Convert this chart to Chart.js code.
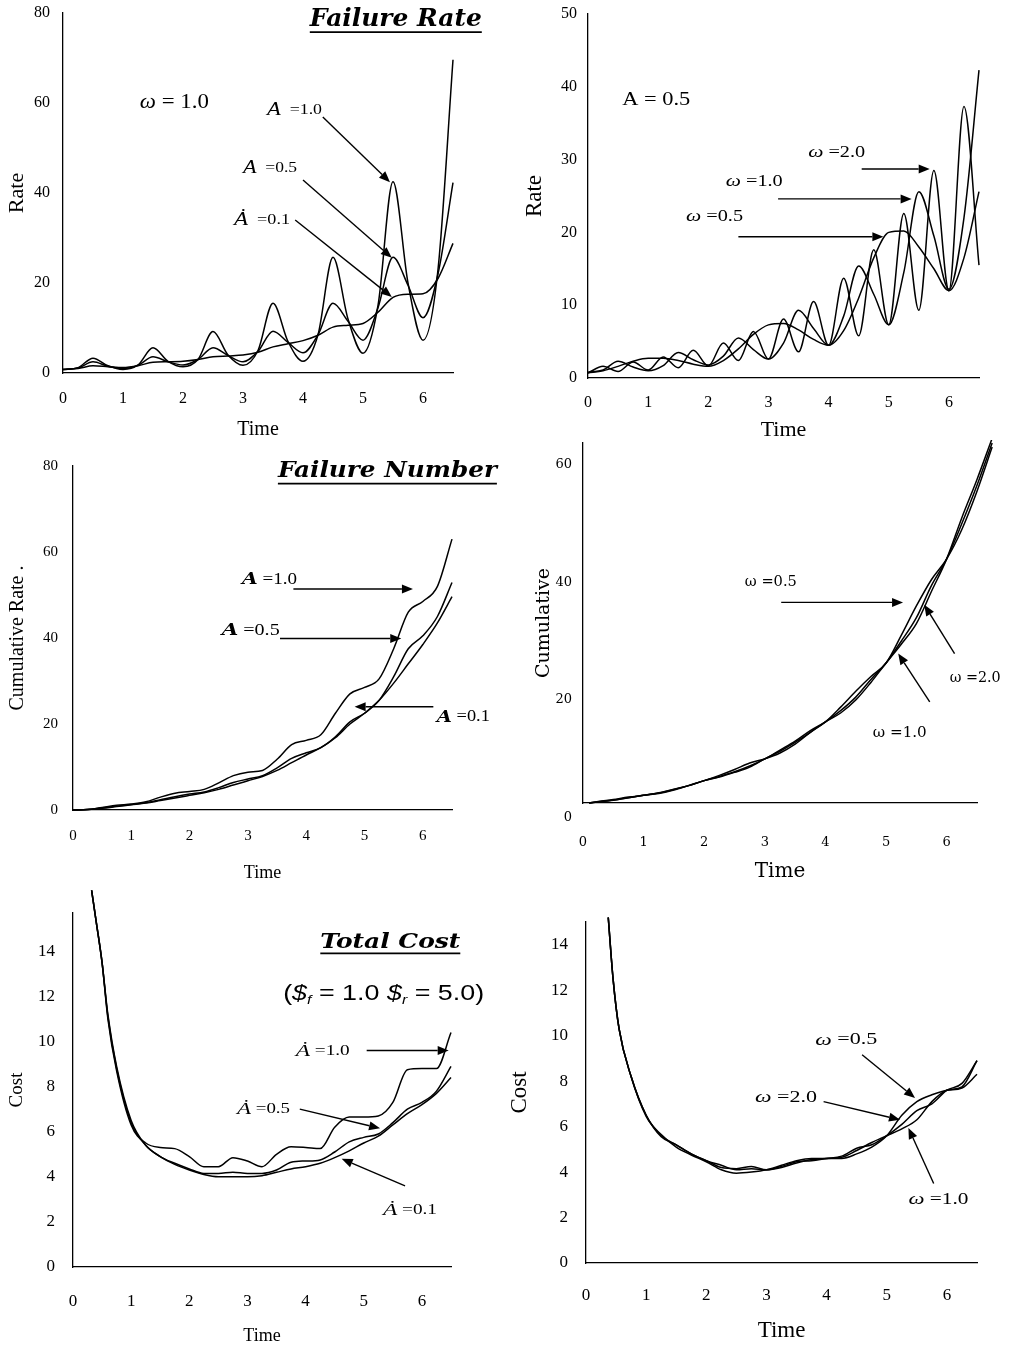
<!DOCTYPE html>
<html lang="en">
<head>
<meta charset="UTF-8">
<title>Failure rate, failure number and total cost</title>
<script src="https://cdn.jsdelivr.net/npm/chart.js"></script>
<style>
  body { margin: 0; background: #fff; }
  #sheet { position: relative; width: 1012px; height: 1347px; overflow: hidden; }
  #sheet canvas { position: absolute; }
</style>
</head>
<body>
<div id="sheet">
  <canvas id="rateA" width="506" height="445" style="left:0;top:0"></canvas>
  <canvas id="rateW" width="506" height="445" style="left:506px;top:0"></canvas>
  <canvas id="cumA" width="506" height="445" style="left:0;top:440px"></canvas>
  <canvas id="cumW" width="506" height="445" style="left:506px;top:440px"></canvas>
  <canvas id="costA" width="506" height="467" style="left:0;top:880px"></canvas>
  <canvas id="costW" width="506" height="467" style="left:506px;top:880px"></canvas>
</div>
<script>
// ---- data ----
const timeTicks = [0, 1, 2, 3, 4, 5, 6];
const quarterTime = [0, 0.25, 0.5, 0.75, 1, 1.25, 1.5, 1.75, 2, 2.25, 2.5, 2.75, 3, 3.25, 3.5, 3.75, 4, 4.25, 4.5, 4.75, 5, 5.25, 5.5, 5.75, 6, 6.25, 6.5];

// failure rate, omega = 1.0
const rateTicksA = [0, 20, 40, 60, 80];
const rateA10 = [0.8, 1.2, 3.3, 1.6, 0.8, 1.8, 5.6, 2.6, 1.4, 3.0, 9.2, 4.0, 1.7, 5.0, 15.5, 7.0, 2.6, 8.5, 25.7, 12.0, 4.4, 15.0, 42.5, 20.0, 7.3, 23.0, 69.6];
const rateA05 = [0.8, 1.1, 2.5, 1.5, 1.0, 1.7, 3.6, 2.5, 1.8, 3.0, 5.6, 3.9, 2.5, 4.8, 9.3, 6.8, 4.5, 8.5, 15.5, 11.5, 7.3, 14.5, 25.7, 19.5, 12.3, 22.0, 42.3];
const rateA01 = [0.8, 1.0, 1.6, 1.4, 1.2, 1.6, 2.4, 2.5, 2.6, 3.0, 3.6, 3.8, 4.0, 4.6, 5.8, 6.5, 7.2, 8.4, 10.2, 10.6, 11.0, 13.5, 16.8, 17.5, 17.6, 21.0, 28.8];

// failure rate, A = 0.5
const rateTicksW = [0, 10, 20, 30, 40, 50];
const rateW05 = [0.7, 1.0, 1.6, 2.3, 2.7, 2.7, 2.4, 1.9, 1.6, 2.4, 4.0, 6.0, 7.3, 7.5, 6.6, 5.3, 4.5, 6.5, 11.0, 16.5, 20.0, 20.2, 18.0, 15.0, 12.0, 16.5, 25.6];
const rateW10 = [0.8, 1.1, 2.3, 1.5, 1.0, 1.7, 3.5, 2.5, 1.8, 3.0, 5.5, 3.9, 2.6, 4.8, 9.3, 6.8, 4.5, 8.5, 15.4, 11.5, 7.3, 14.5, 25.6, 19.5, 12.2, 22.0, 42.3];
const rateW20 = [0.7, 1.6, 0.9, 2.2, 1.1, 2.9, 1.4, 3.8, 1.65, 4.8, 2.4, 6.4, 2.6, 8.1, 3.6, 10.5, 4.5, 13.7, 5.8, 17.6, 7.3, 22.6, 9.3, 28.5, 12.0, 37.3, 15.5];

// failure number, omega = 1.0
const cumTicksA = [0, 20, 40, 60, 80];
const cumA10 = [0, 0.1, 0.6, 1.1, 1.4, 1.9, 3.0, 3.9, 4.3, 4.8, 6.3, 8.0, 8.8, 9.2, 11.8, 15.2, 16.2, 17.5, 22.5, 27.0, 28.5, 30.5, 37.5, 46.0, 48.5, 52.0, 63.0];
const cumA05 = [0, 0.1, 0.5, 0.9, 1.3, 1.7, 2.4, 3.1, 3.7, 4.2, 5.2, 6.4, 7.2, 8.0, 9.8, 12.0, 13.3, 14.5, 17.0, 20.5, 22.5, 25.5, 31.0, 37.5, 40.5, 45.0, 52.9];
const cumA01 = [0, 0.1, 0.4, 0.8, 1.2, 1.6, 2.2, 2.8, 3.4, 4.0, 4.8, 5.8, 6.8, 7.8, 9.2, 11.0, 12.8, 14.5, 16.8, 20.0, 22.5, 25.5, 29.5, 34.0, 38.5, 43.5, 49.6];

// failure number, A = 0.5 (curves run past the end of the time axis)
const cumTicksW = [0, 20, 40, 60];
const cumTimeW = [0.1, 0.25, 0.5, 0.75, 1, 1.25, 1.5, 1.75, 2, 2.25, 2.5, 2.75, 3, 3.25, 3.5, 3.75, 4, 4.25, 4.5, 4.75, 5, 5.25, 5.5, 5.75, 6, 6.25, 6.5, 6.75];
const cumW05 = [2.5, 2.75, 3.1, 3.5, 3.8, 4.1, 4.7, 5.5, 6.3, 7.2, 8.2, 9.3, 10.0, 11.0, 12.5, 14.5, 16.3, 18.8, 21.5, 24.0, 26.3, 31.0, 36.0, 40.5, 44.0, 49.0, 55.5, 63.0];
const cumW10 = [2.5, 2.7, 3.0, 3.4, 3.8, 4.2, 4.8, 5.5, 6.3, 7.0, 7.8, 8.8, 10.0, 11.5, 13.0, 14.8, 16.3, 18.2, 20.5, 23.5, 26.3, 30.0, 34.0, 39.5, 44.0, 50.0, 56.5, 63.7];
const cumW20 = [2.5, 2.65, 2.95, 3.4, 3.8, 4.25, 4.85, 5.45, 6.3, 6.9, 7.7, 8.6, 10.0, 11.3, 12.8, 14.5, 16.3, 17.8, 20.0, 23.0, 26.3, 29.5, 33.0, 38.5, 44.0, 51.0, 57.5, 64.5];

// total cost, omega = 1.0
const costTicks = [0, 2, 4, 6, 8, 10, 12, 14];
const costTimeA = [0.32, 0.4, 0.5, 0.6, 0.75, 1, 1.25, 1.5, 1.75, 2, 2.25, 2.5, 2.75, 3, 3.25, 3.5, 3.75, 4, 4.25, 4.5, 4.75, 5, 5.25, 5.5, 5.75, 6, 6.25, 6.5];
const costA10 = [16.7, 15.3, 13.5, 11.0, 8.7, 6.3, 5.5, 5.3, 5.25, 4.9, 4.45, 4.45, 4.85, 4.7, 4.45, 5.0, 5.33, 5.3, 5.25, 6.2, 6.65, 6.65, 6.7, 7.3, 8.75, 8.8, 8.8, 10.4];
const costA05 = [16.7, 15.3, 13.5, 11.1, 8.8, 6.4, 5.4, 4.9, 4.6, 4.35, 4.15, 4.15, 4.2, 4.15, 4.15, 4.3, 4.65, 4.7, 4.75, 5.1, 5.55, 5.75, 5.9, 6.4, 7.0, 7.3, 7.8, 8.9];
const costA01 = [16.7, 15.3, 13.5, 11.2, 8.9, 6.5, 5.4, 4.9, 4.55, 4.3, 4.1, 4.0, 4.0, 4.0, 4.05, 4.2, 4.35, 4.45, 4.6, 4.85, 5.15, 5.5, 5.8, 6.3, 6.8, 7.2, 7.7, 8.4];

// total cost, A = 0.5
const costTimeW = [0.37, 0.45, 0.55, 0.75, 1, 1.25, 1.5, 1.75, 2, 2.25, 2.5, 2.75, 3, 3.25, 3.5, 3.75, 4, 4.25, 4.5, 4.75, 5, 5.25, 5.5, 5.75, 6, 6.25, 6.5];
const costW05 = [15.2, 12.5, 10.3, 8.2, 6.45, 5.65, 5.1, 4.75, 4.45, 4.1, 3.95, 4.0, 4.1, 4.3, 4.5, 4.6, 4.6, 4.6, 4.8, 5.1, 5.6, 6.5, 7.1, 7.4, 7.6, 7.7, 8.3];
const costW10 = [15.2, 12.5, 10.3, 8.2, 6.5, 5.6, 5.2, 4.8, 4.5, 4.3, 4.1, 4.15, 4.1, 4.2, 4.4, 4.55, 4.6, 4.65, 4.95, 5.3, 5.6, 5.9, 6.3, 7.1, 7.6, 7.75, 8.9];
const costW20 = [15.2, 12.5, 10.3, 8.2, 6.5, 5.55, 5.2, 4.8, 4.5, 4.2, 4.15, 4.25, 4.1, 4.25, 4.45, 4.5, 4.6, 4.7, 5.05, 5.2, 5.6, 6.1, 6.7, 7.0, 7.6, 7.9, 8.9];

// ---- drawing ----
const TIMES = '"Liberation Serif", "Times New Roman", serif';
const WIDE = '"DejaVu Serif", serif';
const SANS = '"Liberation Sans", Arial, sans-serif';

function drawArrow(ctx, x1, y1, x2, y2) {
  const ang = Math.atan2(y2 - y1, x2 - x1);
  const len = 11, half = 4.5;
  const bx = x2 - len * Math.cos(ang), by = y2 - len * Math.sin(ang);
  ctx.lineWidth = 1.4;
  ctx.beginPath(); ctx.moveTo(x1, y1); ctx.lineTo(bx, by); ctx.stroke();
  ctx.beginPath();
  ctx.moveTo(x2, y2);
  ctx.lineTo(bx + half * Math.sin(ang), by - half * Math.cos(ang));
  ctx.lineTo(bx - half * Math.sin(ang), by + half * Math.cos(ang));
  ctx.closePath(); ctx.fill();
}

function drawLabel(ctx, chart, l) {
  const x0 = chart.scales.x.getPixelForValue(l.at[0]);
  const y0 = chart.scales.y.getPixelForValue(l.at[1]);
  let natural = 0;
  l.parts.forEach(p => { ctx.font = p[1]; natural += ctx.measureText(p[0]).width; });
  const w = l.w || natural;
  const left = l.align === 'right' ? x0 - w : x0;
  ctx.save();
  ctx.translate(left, y0);
  ctx.scale(w / natural, 1);
  ctx.textBaseline = 'middle';
  ctx.textAlign = 'left';
  let cx = 0;
  l.parts.forEach(p => {
    ctx.font = p[1];
    ctx.fillText(p[0], cx, p[2] || 0);
    cx += ctx.measureText(p[0]).width;
  });
  if (l.underline) {
    ctx.lineWidth = 1.8;
    ctx.beginPath(); ctx.moveTo(0, l.underline); ctx.lineTo(natural, l.underline); ctx.stroke();
  }
  ctx.restore();
}

function notesPlugin(notes) {
  return {
    id: 'notes',
    afterDraw(chart) {
      const ctx = chart.ctx;
      const sx = chart.scales.x, sy = chart.scales.y;
      ctx.save();
      ctx.fillStyle = '#000';
      ctx.strokeStyle = '#000';
      (notes.arrows || []).forEach(a => drawArrow(ctx,
        sx.getPixelForValue(a[0]), sy.getPixelForValue(a[1]),
        sx.getPixelForValue(a[2]), sy.getPixelForValue(a[3])));
      (notes.labels || []).forEach(l => drawLabel(ctx, chart, l));
      ctx.restore();
    }
  };
}

function makePanel(id, p) {
  const datasets = p.series.map(s => ({
    data: p.time.map((t, i) => ({ x: t, y: s[i] })),
    borderColor: '#000',
    borderWidth: 1.5,
    pointRadius: 0,
    fill: false,
    cubicInterpolationMode: 'monotone',
    clip: false
  }));
  return new Chart(document.getElementById(id), {
    type: 'line',
    data: { datasets },
    options: {
      responsive: false,
      animation: false,
      events: [],
      layout: { padding: p.pad },
      plugins: { legend: { display: false }, tooltip: { enabled: false } },
      scales: {
        x: {
          type: 'linear', bounds: 'data',
          // axis ends at 6.5, set after the data limits so points beyond stay drawn
          afterDataLimits: s => { s.min = 0; s.max = 6.5; },
          afterBuildTicks: s => { s.ticks = timeTicks.map(v => ({ value: v })); },
          afterFit: s => { s.height = p.xh; s.paddingLeft = 0; s.paddingRight = 0; },
          grid: { display: true, drawOnChartArea: false, drawTicks: false },
          border: { color: '#000', width: 1.3 },
          ticks: { color: '#000', font: p.tickFont, padding: p.xTickPad, autoSkip: false, maxRotation: 0 },
          title: { display: true, text: 'Time', color: '#000', font: p.xTitleFont, padding: { top: 0, bottom: p.xTitlePad } }
        },
        y: {
          type: 'linear', min: p.yMin, max: p.yMax,
          afterBuildTicks: s => { s.ticks = p.yTicks.map(v => ({ value: v })); },
          afterFit: s => { s.width = p.yw; s.paddingTop = 0; s.paddingBottom = 0; },
          grid: { display: true, drawOnChartArea: false, drawTicks: false },
          border: { color: '#000', width: 1.3 },
          ticks: { color: '#000', font: p.tickFont, padding: p.yTickPad, autoSkip: false },
          title: { display: true, text: p.yTitle, color: '#000', font: p.yTitleFont, padding: { top: p.yTitlePad, bottom: 0 } }
        }
      }
    },
    plugins: [notesPlugin(p.notes)]
  });
}

const it = (size, fam) => 'italic ' + size + 'px ' + (fam || TIMES);
const rg = (size, fam) => size + 'px ' + (fam || TIMES);

makePanel('rateA', {
  time: quarterTime, series: [rateA10, rateA05, rateA01],
  yMin: 0, yMax: 80, yTicks: rateTicksA,
  pad: { left: 0, top: 13, right: 53, bottom: 0 }, yw: 63, xh: 72,
  tickFont: { family: TIMES, size: 16 }, xTickPad: 16, yTickPad: 13,
  xTitleFont: { family: TIMES, size: 20 }, xTitlePad: 3,
  yTitle: 'Rate', yTitleFont: { family: TIMES, size: 22 }, yTitlePad: 4,
  notes: {
    labels: [
      { at: [6.98, 78.4], align: 'right', parts: [['Failure Rate', 'bold italic 24px ' + WIDE]], w: 172, underline: 12 },
      { at: [1.28, 60], parts: [['ω', it(20)], [' = 1.0', rg(20)]], w: 69 },
      { at: [3.4, 58.4], parts: [['A', it(19)], ['  =1.0', rg(15)]], w: 55 },
      { at: [3.0, 45.6], parts: [['A', it(19)], ['  =0.5', rg(15)]], w: 54 },
      { at: [2.85, 34], parts: [['Ȧ', it(19)], ['  =0.1', rg(15)]], w: 56 }
    ],
    arrows: [[4.33, 56.9, 5.45, 42.4], [4.0, 42.9, 5.48, 25.6], [3.87, 34, 5.48, 16.9]]
  }
});

makePanel('rateW', {
  time: quarterTime, series: [rateW05, rateW10, rateW20],
  yMin: 0, yMax: 50, yTicks: rateTicksW,
  pad: { left: 0, top: 14, right: 33, bottom: 0 }, yw: 82, xh: 67,
  tickFont: { family: TIMES, size: 16 }, xTickPad: 15, yTickPad: 11,
  xTitleFont: { family: TIMES, size: 22 }, xTitlePad: 2,
  yTitle: 'Rate', yTitleFont: { family: TIMES, size: 23 }, yTitlePad: 15,
  notes: {
    labels: [
      { at: [0.57, 38.2], parts: [['A = 0.5', rg(19)]], w: 68 },
      { at: [3.66, 31], parts: [['ω', it(17)], [' =2.0', rg(16)]], w: 57 },
      { at: [2.29, 27], parts: [['ω', it(17)], [' =1.0', rg(16)]], w: 57 },
      { at: [1.63, 22.2], parts: [['ω', it(17)], [' =0.5', rg(16)]], w: 57 }
    ],
    arrows: [[4.55, 28.7, 5.68, 28.7], [3.16, 24.6, 5.38, 24.6], [2.5, 19.4, 4.91, 19.4]]
  }
});

makePanel('cumA', {
  time: quarterTime, series: [cumA10, cumA05, cumA01],
  yMin: 0, yMax: 80, yTicks: cumTicksA,
  pad: { left: 0, top: 26, right: 54, bottom: 0 }, yw: 73, xh: 75,
  tickFont: { family: TIMES, size: 15 }, xTickPad: 17, yTickPad: 15,
  xTitleFont: { family: TIMES, size: 18 }, xTitlePad: 1,
  yTitle: 'Cumulative Rate .', yTitleFont: { family: TIMES, size: 20 }, yTitlePad: 6,
  notes: {
    labels: [
      { at: [7.27, 78.7], align: 'right', parts: [['Failure Number', 'bold italic 22px ' + WIDE]], w: 219, underline: 12 },
      { at: [2.9, 53.5], parts: [['A', 'bold italic 17px ' + WIDE], [' =1.0', rg(16)]], w: 55 },
      { at: [2.55, 41.7], parts: [['A', 'bold italic 17px ' + WIDE], [' =0.5', rg(16)]], w: 58 },
      { at: [6.24, 21.6], parts: [['A', 'bold italic 17px ' + WIDE], [' =0.1', rg(16)]], w: 53 }
    ],
    arrows: [[3.78, 51.4, 5.83, 51.4], [3.55, 39.9, 5.63, 39.9], [6.18, 24.0, 4.83, 24.0]]
  }
});

makePanel('cumW', {
  time: cumTimeW, series: [cumW05, cumW10, cumW20],
  yMin: 2.5, yMax: 63.7, yTicks: cumTicksW,
  pad: { left: 0, top: 3, right: 35, bottom: 0 }, yw: 77, xh: 82,
  tickFont: { family: WIDE, size: 13 }, xTickPad: 32, yTickPad: 11,
  xTitleFont: { family: WIDE, size: 20 }, xTitlePad: 1,
  yTitle: 'Cumulative', yTitleFont: { family: WIDE, size: 19 }, yTitlePad: 27,
  notes: {
    labels: [
      { at: [2.67, 40.1], parts: [['ω =0.5', rg(15, WIDE)]], w: 52 },
      { at: [6.05, 23.7], parts: [['ω =2.0', rg(15, WIDE)]], w: 51 },
      { at: [4.78, 14.3], parts: [['ω =1.0', rg(15, WIDE)]], w: 54 }
    ],
    arrows: [[3.27, 36.6, 5.28, 36.6], [6.13, 27.9, 5.63, 36.2], [5.72, 19.7, 5.2, 27.9]]
  }
});

makePanel('costA', {
  time: costTimeA, series: [costA10, costA05, costA01],
  yMin: 0, yMax: 15.7, yTicks: costTicks,
  pad: { left: 0, top: 33, right: 55, bottom: 0 }, yw: 73, xh: 80,
  tickFont: { family: TIMES, size: 17 }, xTickPad: 24, yTickPad: 18,
  xTitleFont: { family: TIMES, size: 18 }, xTitlePad: 0,
  yTitle: 'Cost', yTitleFont: { family: TIMES, size: 19 }, yTitlePad: 6,
  notes: {
    labels: [
      { at: [6.66, 14.4], align: 'right', parts: [['Total Cost', 'bold italic 21px ' + WIDE]], w: 140, underline: 11 },
      { at: [7.07, 12.1], align: 'right', w: 201, parts: [
        ['(', rg(22, SANS)], ['$', it(22, SANS)], ['f', it(13, SANS), 6], [' = 1.0 ', rg(22, SANS)],
        ['$', it(22, SANS)], ['r', it(13, SANS), 6], [' = 5.0)', rg(22, SANS)]] },
      { at: [3.83, 9.55], parts: [['Ȧ', it(17)], [' =1.0', rg(14)]], w: 54 },
      { at: [2.82, 7.0], parts: [['Ȧ', it(17)], [' =0.5', rg(14)]], w: 53 },
      { at: [5.33, 2.5], parts: [['Ȧ', it(17)], [' =0.1', rg(14)]], w: 54 }
    ],
    arrows: [[5.05, 9.6, 6.46, 9.6], [3.9, 7.0, 5.28, 6.15], [5.71, 3.6, 4.62, 4.8]]
  }
});

makePanel('costW', {
  time: costTimeW, series: [costW05, costW10, costW20],
  yMin: 0, yMax: 15, yTicks: costTicks,
  pad: { left: 0, top: 42, right: 35, bottom: 0 }, yw: 80, xh: 84,
  tickFont: { family: TIMES, size: 17 }, xTickPad: 22, yTickPad: 18,
  xTitleFont: { family: TIMES, size: 23 }, xTitlePad: 2,
  yTitle: 'Cost', yTitleFont: { family: TIMES, size: 23 }, yTitlePad: 0,
  notes: {
    labels: [
      { at: [3.81, 9.8], parts: [['ω', it(17)], [' =0.5', rg(16)]], w: 62 },
      { at: [2.81, 7.26], parts: [['ω', it(17)], [' =2.0', rg(16)]], w: 62 },
      { at: [5.36, 2.78], parts: [['ω', it(17)], [' =1.0', rg(16)]], w: 60 }
    ],
    arrows: [[4.59, 9.16, 5.47, 7.26], [3.95, 7.1, 5.22, 6.3], [5.78, 3.5, 5.36, 5.94]]
  }
});
</script>
</body>
</html>
